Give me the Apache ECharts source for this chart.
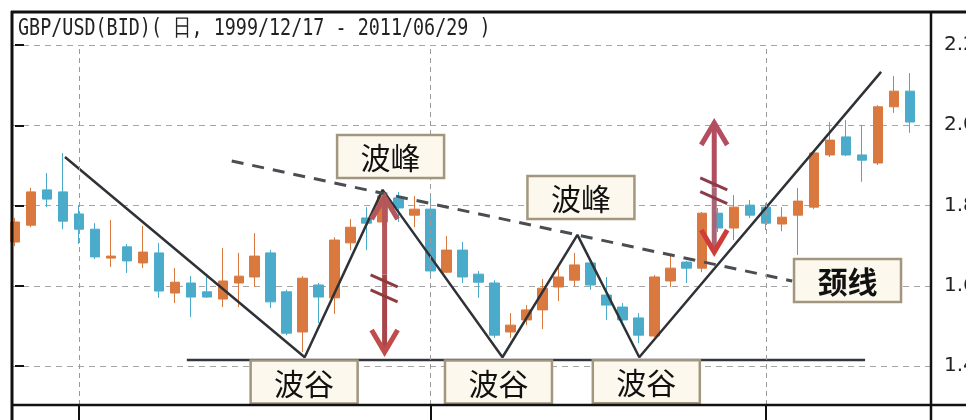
<!DOCTYPE html>
<html><head><meta charset="utf-8">
<script src="https://cdn.jsdelivr.net/npm/echarts@6/dist/echarts.min.js"></script>
<style>html,body{margin:0;padding:0;background:#fff}#c{width:966px;height:420px}</style>
</head><body><div id="c"></div>
<script>
// ---------- data ----------
const titleText = 'GBP/USD(BID)( 日, 1999/12/17 - 2011/06/29 )';
const candleIndex = [0,1,2,3,4,5,6,7,8,9,10,11,12,13,14,15,16,17,18,19,20,21,22,23,24,25,26,27,28,29,30,31,32,33,34,35,36,37,38,39,40,41,42,43,44,45,46,47,48,49,50,51,52,53,54,55,56];
const opens  = [1.709,1.751,1.839,1.834,1.779,1.741,1.669,1.697,1.657,1.682,1.582,1.607,1.585,1.567,1.607,1.622,1.682,1.585,1.485,1.602,1.570,1.707,1.769,1.759,1.819,1.776,1.791,1.634,1.689,1.629,1.607,1.485,1.515,1.540,1.597,1.614,1.657,1.577,1.547,1.520,1.475,1.612,1.659,1.644,1.781,1.744,1.801,1.796,1.754,1.776,1.796,1.926,1.971,1.926,1.906,2.046,2.085];
const closes = [1.759,1.834,1.816,1.761,1.741,1.672,1.674,1.662,1.684,1.587,1.609,1.572,1.572,1.612,1.624,1.674,1.560,1.482,1.619,1.572,1.714,1.746,1.756,1.824,1.794,1.791,1.637,1.689,1.622,1.609,1.477,1.502,1.540,1.594,1.622,1.652,1.602,1.552,1.515,1.477,1.622,1.644,1.644,1.781,1.744,1.796,1.776,1.756,1.771,1.811,1.931,1.963,1.926,1.913,2.046,2.085,2.008];
const lows   = [1.699,1.746,1.796,1.741,1.704,1.667,1.647,1.632,1.644,1.570,1.557,1.522,1.570,1.547,1.547,1.597,1.545,1.477,1.435,1.507,1.530,1.689,1.689,1.749,1.759,1.746,1.624,1.632,1.607,1.570,1.470,1.470,1.502,1.492,1.562,1.599,1.590,1.515,1.512,1.457,1.472,1.597,1.607,1.634,1.734,1.714,1.769,1.739,1.736,1.677,1.791,1.921,1.923,1.859,1.901,2.031,1.981];
const highs  = [1.769,1.844,1.881,1.931,1.801,1.756,1.764,1.704,1.749,1.707,1.644,1.624,1.622,1.694,1.682,1.731,1.689,1.590,1.624,1.607,1.721,1.766,1.796,1.839,1.834,1.824,1.831,1.724,1.709,1.637,1.614,1.532,1.552,1.617,1.652,1.682,1.664,1.622,1.557,1.532,1.627,1.677,1.662,1.784,1.794,1.826,1.814,1.806,1.796,1.844,1.933,2.008,2.013,2.001,2.050,2.123,2.130];
const dividerIndex = [4, 26, 47];

const zigzagX = [3.125, 18.125, 23.0, 30.5, 35.19, 39.06, 54.19];
const zigzagY = [1.921, 1.422, 1.839, 1.422, 1.727, 1.422, 2.133];
const necklineX = [13.56, 48.63];
const necklineY = [1.911, 1.612];
const troughLineX = [10.75, 53.19];
const troughLineY = [1.415, 1.415];

const arrowX = [23.125, 43.75];
const arrowTop = [1.821, 2.006];
const arrowBottom = [1.435, 1.684];
const hatchA = [1.612, 1.854];
const hatchB = [1.575, 1.820];

const labelText = ['波峰','波峰','颈线','波谷','波谷','波谷'];
const labelX = [23.5, 35.41, 52.09, 18.09, 30.25, 39.5];
const labelY = [1.922, 1.820, 1.613, 1.360, 1.360, 1.361];
const labelBold = [false, false, true, false, false, false];

// ---------- styles ----------
const ORANGE = '#d9783f', BLUE = '#4aabcb';
const arrowStyles = [
  {top:'#b5565a', shaft:'#a8474b', bottom:'#c04c4c', hatch:'#8c3b3e'},
  {top:'#b24e60', shaft:'#a86575', bottom:'#cf3d3a', hatch:'#8c3b48'}
];

const chart = echarts.init(document.getElementById('c'), null, {renderer:'canvas'});

function renderArrow(params, api) {
  const i = params.dataIndex;
  const s = arrowStyles[i];
  const x = api.value(0);
  const t = api.coord([x, api.value(1)]);
  const b = api.coord([x, api.value(2)]);
  const h1 = api.coord([x, api.value(3)]);
  const h2 = api.coord([x, api.value(4)]);
  const cx = t[0];
  const hw = 13, hl = 22;
  const mid = (t[1] + b[1]) / 2;
  return {type:'group', children:[
    {type:'line', shape:{x1:cx, y1:t[1]+4, x2:cx, y2:mid}, style:{stroke:s.top, lineWidth:5}},
    {type:'line', shape:{x1:cx, y1:mid, x2:cx, y2:b[1]-4}, style:{stroke:s.shaft, lineWidth:5}},
    {type:'polyline', shape:{points:[[cx-hw,t[1]+hl],[cx,t[1]],[cx+hw,t[1]+hl]]}, style:{stroke:s.top, lineWidth:5, fill:null, lineJoin:'miter'}},
    {type:'polyline', shape:{points:[[cx-hw,b[1]-hl],[cx,b[1]],[cx+hw,b[1]-hl]]}, style:{stroke:s.bottom, lineWidth:5, fill:null, lineJoin:'miter'}},
    {type:'line', shape:{x1:cx-14, y1:h1[1]-6, x2:cx+13, y2:h1[1]+6}, style:{stroke:s.hatch, lineWidth:3}},
    {type:'line', shape:{x1:cx-14, y1:h2[1]-6, x2:cx+13, y2:h2[1]+6}, style:{stroke:s.hatch, lineWidth:3}}
  ]};
}

function renderBox(params, api) {
  const i = params.dataIndex;
  const c = api.coord([api.value(0), api.value(1)]);
  const w = 107, h = 43;
  return {type:'group', children:[
    {type:'rect', shape:{x:c[0]-w/2, y:c[1]-h/2, width:w, height:h},
     style:{fill:'#fcf8ee', stroke:'#a3967f', lineWidth:2.5}},
    {type:'text', x:c[0], y:c[1]+1,
     style:{text:labelText[i], fill:'#111', align:'center', verticalAlign:'middle',
            font:(labelBold[i] ? 'bold ' : '') + '30px "Noto Sans CJK SC"'}}
  ]};
}

const option = {
  animation: false,
  backgroundColor: '#ffffff',
  grid: {left: 12, right: 35, top: 45, bottom: 15, containLabel: false, outerBoundsMode: 'none'},
  xAxis: {
    type: 'value', min: -0.1875, max: 57.3125,
    axisLine: {show: false}, splitLine: {show: false}, axisLabel: {show: false},
    axisTick: {show: true, customValues: dividerIndex, length: 15, lineStyle: {color: '#111', width: 2}}
  },
  yAxis: {
    type: 'value', position: 'right', min: 1.303, max: 2.2, scale: true,
    splitNumber: 5, minInterval: 0.2, maxInterval: 0.2,
    axisLine: {show: false},
    axisTick: {show: true, length: 9, lineStyle: {color: '#111', width: 2}},
    axisLabel: {margin: 13, fontSize: 20, color: '#222', fontFamily: 'DejaVu Sans',
                showMinLabel: false, formatter: v => v.toFixed(1)},
    splitLine: {show: true, lineStyle: {color: '#a5a5a5', type: [6, 5], width: 1}}
  },
  graphic: [
    {type:'text', x:18, y:29, z:100, scaleX:0.8,
     style:{text:titleText, fill:'#222', font:'23px "DejaVu Sans Mono"', verticalAlign:'middle'}},
    {type:'line', z:100, shape:{x1:11, y1:12, x2:966, y2:12}, style:{stroke:'#111', lineWidth:3}},
    {type:'line', z:100, shape:{x1:12, y1:11, x2:12, y2:420}, style:{stroke:'#111', lineWidth:3}},
    {type:'line', z:100, shape:{x1:931, y1:11, x2:931, y2:420}, style:{stroke:'#111', lineWidth:2.5}},
    {type:'line', z:100, shape:{x1:11, y1:405, x2:966, y2:405}, style:{stroke:'#111', lineWidth:2.5}}
  ],
  series: [
    {
      type: 'candlestick', z: 2, silent: true,
      dimensions: ['x','open','close','lowest','highest'],
      encode: {x: 'x', y: ['open','close','lowest','highest']},
      barWidth: 10,
      itemStyle: {color: ORANGE, color0: BLUE, borderColor: ORANGE, borderColor0: BLUE, borderWidth: 1},
      data: candleIndex.map((x, i) => [x, opens[i], closes[i], lows[i], highs[i]]),
      markLine: {
        silent: true, symbol: 'none', label: {show: false},
        lineStyle: {color: '#9a9a9a', type: [5, 4], width: 1},
        data: dividerIndex.map(v => ({xAxis: v}))
      }
    },
    {
      type: 'line', z: 4, silent: true, symbol: 'none',
      lineStyle: {color: '#2f3236', width: 2.5},
      data: zigzagX.map((x, i) => [x, zigzagY[i]])
    },
    {
      type: 'line', z: 4, silent: true, symbol: 'none',
      lineStyle: {color: '#4a4e52', width: 3, type: [12, 9]},
      data: necklineX.map((x, i) => [x, necklineY[i]])
    },
    {
      type: 'line', z: 4, silent: true, symbol: 'none',
      lineStyle: {color: '#33363a', width: 2.5},
      data: troughLineX.map((x, i) => [x, troughLineY[i]])
    },
    {
      type: 'custom', z: 5, silent: true, clip: false,
      renderItem: renderArrow,
      encode: {x: 0, y: [1, 2]},
      data: arrowX.map((x, i) => [x, arrowTop[i], arrowBottom[i], hatchA[i], hatchB[i]])
    },
    {
      type: 'custom', z: 6, silent: true, clip: false,
      renderItem: renderBox,
      encode: {x: 0, y: 1},
      data: labelX.map((x, i) => [x, labelY[i]])
    }
  ]
};
chart.setOption(option);
</script>
</body></html>
